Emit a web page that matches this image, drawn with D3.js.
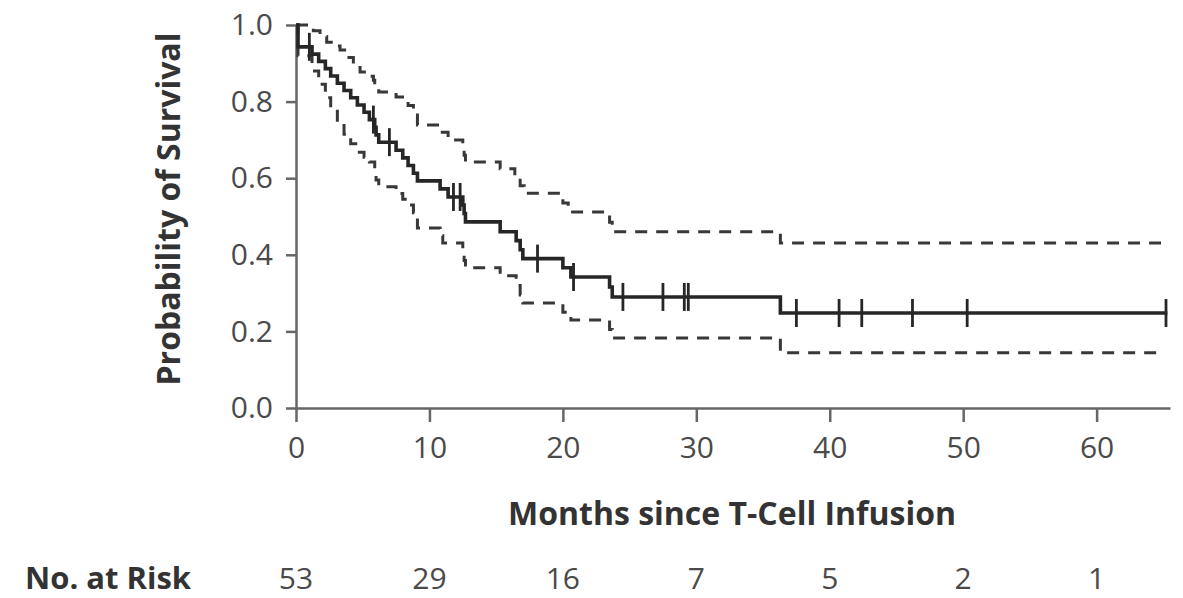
<!DOCTYPE html>
<html>
<head>
<meta charset="utf-8">
<script src="https://cdn.jsdelivr.net/npm/d3@7"></script>
<style>
  body { margin: 0; background: #fff; }
  svg { display: block; font-family: 'Open Sans', sans-serif; }
</style>
</head>
<body>
<div id="chart"></div>
<script>
// Kaplan-Meier estimate (months, probability)
const estTimes = [0, 0.15, 1.2, 1.7, 2.2, 2.6, 3.1, 3.6, 4.1, 4.6, 5.1, 5.5, 5.9, 6.0, 6.2,
  7.5, 8.0, 8.4, 8.8, 9.1, 10.8, 11.4, 12.5, 12.6, 12.7, 15.3, 16.5, 16.8, 17.0,
  20.0, 20.6, 23.5, 23.7, 36.3, 65.3]
const estSurv = [1.0, 0.943, 0.924, 0.905, 0.886, 0.867, 0.848, 0.829, 0.810, 0.791, 0.772, 0.753, 0.733, 0.713, 0.694,
  0.673, 0.653, 0.633, 0.613, 0.593, 0.572, 0.551, 0.530, 0.508, 0.486, 0.460, 0.437, 0.413, 0.390,
  0.366, 0.342, 0.316, 0.290, 0.248, 0.248]

// 95% confidence band
const upperTimes = [0, 1.3, 1.8, 2.3, 2.8, 3.3, 3.8, 4.3, 4.8, 5.3, 5.8, 5.9, 6.2, 7.5, 8.4, 8.8, 9.1,
  10.8, 11.4, 12.5, 12.6, 12.7, 15.3, 16.4, 16.8, 17.1, 20.0, 20.4, 23.5, 23.7, 36.3, 65.0]
const upperVals = [1.0, 0.985, 0.97, 0.955, 0.945, 0.935, 0.915, 0.895, 0.877, 0.866, 0.856, 0.84, 0.825, 0.812, 0.79, 0.765, 0.739,
  0.72, 0.70, 0.68, 0.66, 0.642, 0.625, 0.605, 0.58, 0.561, 0.535, 0.512, 0.485, 0.46, 0.431, 0.431]

const lowerTimes = [0, 0.15, 1.2, 1.7, 2.2, 2.6, 3.1, 3.6, 4.1, 4.6, 5.1, 5.5, 5.9, 6.0, 6.2,
  7.5, 8.0, 8.4, 8.8, 9.1, 10.8, 11.0, 12.5, 12.6, 12.7, 15.3, 16.5, 16.8, 17.0,
  20.0, 20.6, 23.5, 23.7, 36.3, 65.0]
const lowerVals = [1.0, 0.92, 0.88, 0.845, 0.81, 0.78, 0.745, 0.715, 0.69, 0.668, 0.655, 0.642, 0.615, 0.595, 0.578,
  0.56, 0.545, 0.53, 0.51, 0.47, 0.45, 0.431, 0.405, 0.385, 0.366, 0.345, 0.32, 0.295, 0.274,
  0.25, 0.23, 0.205, 0.183, 0.144, 0.144]

// censored observations (months)
const censorTimes = [1.0, 5.8, 7.0, 11.8, 12.3, 18.1, 20.8, 24.5, 27.5, 29.1, 29.4,
  37.5, 40.7, 42.4, 46.2, 50.3, 65.2]

const xTicks = [0, 10, 20, 30, 40, 50, 60]
const yTicks = [0, 0.2, 0.4, 0.6, 0.8, 1.0]
const riskCounts = [53, 29, 16, 7, 5, 2, 1]

const width = 1183, height = 598

const svg = d3.select('#chart').append('svg')
  .attr('width', width)
  .attr('height', height)

const x = d3.scaleLinear().domain([0, 65.5]).range([296, 1170])
const y = d3.scaleLinear().domain([0, 1]).range([408, 25])

const line = d3.line()
  .x(d => x(d[0]))
  .y(d => y(d[1]))
  .curve(d3.curveStepAfter)

const zip = (a, b) => a.map((t, i) => [t, b[i]])

// axes
svg.append('g')
  .attr('transform', `translate(${x(0)},0)`)
  .call(d3.axisLeft(y).tickValues(yTicks).tickFormat(d3.format('.1f')).tickSize(10).tickSizeOuter(0).tickPadding(13))

svg.append('g')
  .attr('transform', `translate(0,${y(0)})`)
  .call(d3.axisBottom(x).tickValues(xTicks).tickSize(14).tickSizeOuter(0).tickPadding(15))

svg.selectAll('.domain').attr('stroke', '#666').attr('stroke-width', 2.5)
svg.selectAll('.tick line').attr('stroke', '#666').attr('stroke-width', 2.5)
svg.selectAll('.tick text')
  .attr('fill', '#4a4a4a')
  .style('font-size', '30px')
  .style('font-family', "'Open Sans', sans-serif")

// confidence band
svg.append('path')
  .datum(zip(upperTimes, upperVals))
  .attr('d', line)
  .attr('fill', 'none')
  .attr('stroke', '#383838')
  .attr('stroke-width', 3)
  .attr('stroke-dasharray', '12,9')

svg.append('path')
  .datum(zip(lowerTimes, lowerVals))
  .attr('d', line)
  .attr('fill', 'none')
  .attr('stroke', '#383838')
  .attr('stroke-width', 3)
  .attr('stroke-dasharray', '12,9')

// estimate
svg.append('path')
  .datum(zip(estTimes, estSurv))
  .attr('d', line)
  .attr('fill', 'none')
  .attr('stroke', '#262626')
  .attr('stroke-width', 3.6)

const survAt = t => estSurv[d3.bisectRight(estTimes, t) - 1]

svg.append('g').selectAll('line')
  .data(censorTimes)
  .enter().append('line')
    .attr('x1', d => x(d))
    .attr('x2', d => x(d))
    .attr('y1', d => y(survAt(d)) - 14)
    .attr('y2', d => y(survAt(d)) + 14)
    .attr('stroke', '#262626')
    .attr('stroke-width', 2.8)

// titles
svg.append('text')
  .attr('transform', 'translate(180,209) rotate(-90)')
  .attr('text-anchor', 'middle')
  .attr('fill', '#333')
  .style('font-size', '32px')
  .style('font-weight', 'bold')
  .text('Probability of Survival')

svg.append('text')
  .attr('x', 732)
  .attr('y', 525)
  .attr('text-anchor', 'middle')
  .attr('fill', '#333')
  .style('font-size', '32px')
  .style('font-weight', 'bold')
  .text('Months since T-Cell Infusion')

// number at risk
svg.append('text')
  .attr('x', 25)
  .attr('y', 589)
  .attr('fill', '#333')
  .style('font-size', '31px')
  .style('font-weight', 'bold')
  .text('No. at Risk')

svg.append('g').selectAll('text')
  .data(riskCounts)
  .enter().append('text')
    .attr('x', (d, i) => x(xTicks[i]))
    .attr('y', 589)
    .attr('text-anchor', 'middle')
    .attr('fill', '#4a4a4a')
    .style('font-size', '30px')
    .text(d => d)
</script>
</body>
</html>
